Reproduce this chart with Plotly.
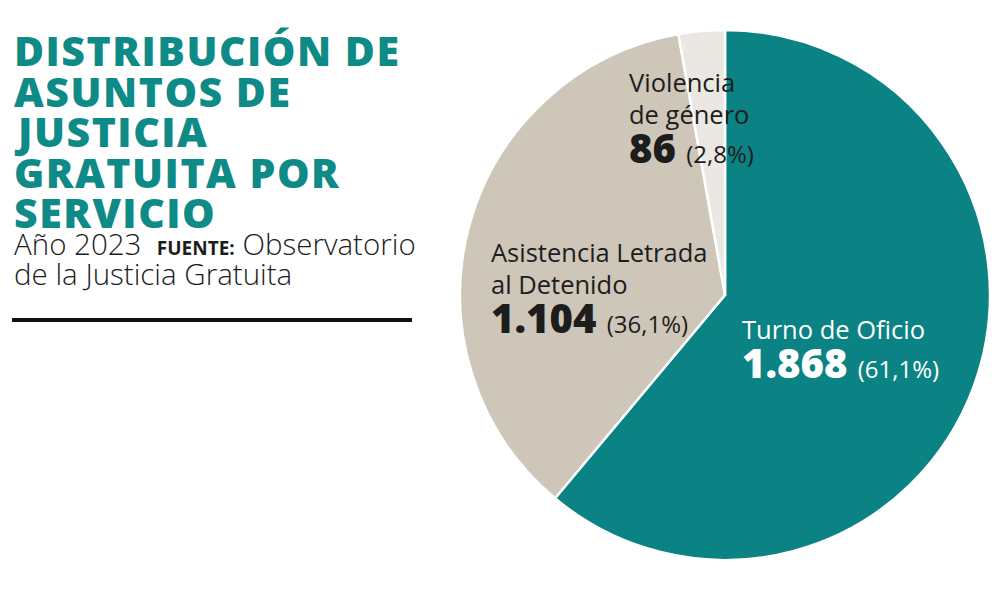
import plotly.graph_objects as go

# data
labels = ["Turno de Oficio", "Asistencia Letrada al Detenido", "Violencia de género"]
values = [1868, 1104, 86]
shares = ["61,1%", "36,1%", "2,8%"]
value_text = ["1.868", "1.104", "86"]
colors = ["#0b8384", "#cdc6b9", "#ebe8e3"]

title_lines = ["DISTRIBUCIÓN DE", "ASUNTOS DE", "JUSTICIA", "GRATUITA POR", "SERVICIO"]

W, H = 1000, 601
OFF = 8  # page body margin pushes the plot 8px right/down
TEAL = "#0e8a87"
DARK = "#1d1d1d"
FONT = "Open Sans"


def px(x, y):
    # screen pixel coords -> paper coords
    return (x - OFF) / W, 1 - (y - OFF) / H


fig = go.Figure()
fig.add_trace(go.Pie(
    labels=labels,
    values=values,
    sort=False,
    direction="clockwise",
    rotation=0,
    marker=dict(colors=colors, line=dict(color="white", width=2.5)),
    textinfo="none",
    hoverinfo="label+value+percent",
    domain=dict(x=[(460 - OFF) / W, (990 - OFF) / W],
                y=[1 - (560 - OFF) / H, 1 - (30 - OFF) / H]),
    showlegend=False,
))

annotations = []


def add_text(text, x, y, size, color=DARK, weight=400, anchor="left"):
    ax, ay = px(x, y)
    annotations.append(dict(
        text=text, x=ax, y=ay, xref="paper", yref="paper",
        xanchor=anchor, yanchor="middle", showarrow=False,
        font=dict(family=FONT, size=size, color=color, weight=weight),
    ))


# title, one annotation per line to keep the tight leading
for i, line in enumerate(title_lines):
    add_text(f"<span style='letter-spacing:1.5px'>{line}</span>",
             12, 50 + i * 40.5, 41, color=TEAL, weight=800)

add_text("Año 2023 &nbsp;<span style='font-size:19px;font-weight:700'>FUENTE:</span> Observatorio",
         12, 243, 29.5, weight=300)
add_text("de la Justicia Gratuita", 12, 273, 29.5, weight=300)

# slice labels
label_lines = [["Turno de Oficio"], ["Asistencia Letrada", "al Detenido"], ["Violencia", "de género"]]
label_pos = [(740, 329), (489, 252), (627, 82)]
text_colors = ["white", DARK, DARK]
for k in range(len(labels)):
    x0, y0 = label_pos[k]
    for j, line in enumerate(label_lines[k]):
        add_text(line, x0, y0 + j * 32, 25.5, color=text_colors[k], weight=400)
    yv = y0 + len(label_lines[k]) * 32 + 1
    add_text(f"<span style='font-weight:800'>{value_text[k]}</span> "
             f"<span style='font-size:24px'>({shares[k]})</span>",
             x0, yv, 40, color=text_colors[k], weight=400)

fig.update_layout(
    width=W, height=H,
    margin=dict(l=0, r=0, t=0, b=0),
    paper_bgcolor="white",
    plot_bgcolor="white",
    annotations=annotations,
    shapes=[dict(type="line", xref="paper", yref="paper",
                 x0=(12 - OFF) / W, x1=(412 - OFF) / W,
                 y0=1 - (320 - OFF) / H, y1=1 - (320 - OFF) / H,
                 line=dict(color="#111111", width=4))],
)

fig.write_html("out.html")
